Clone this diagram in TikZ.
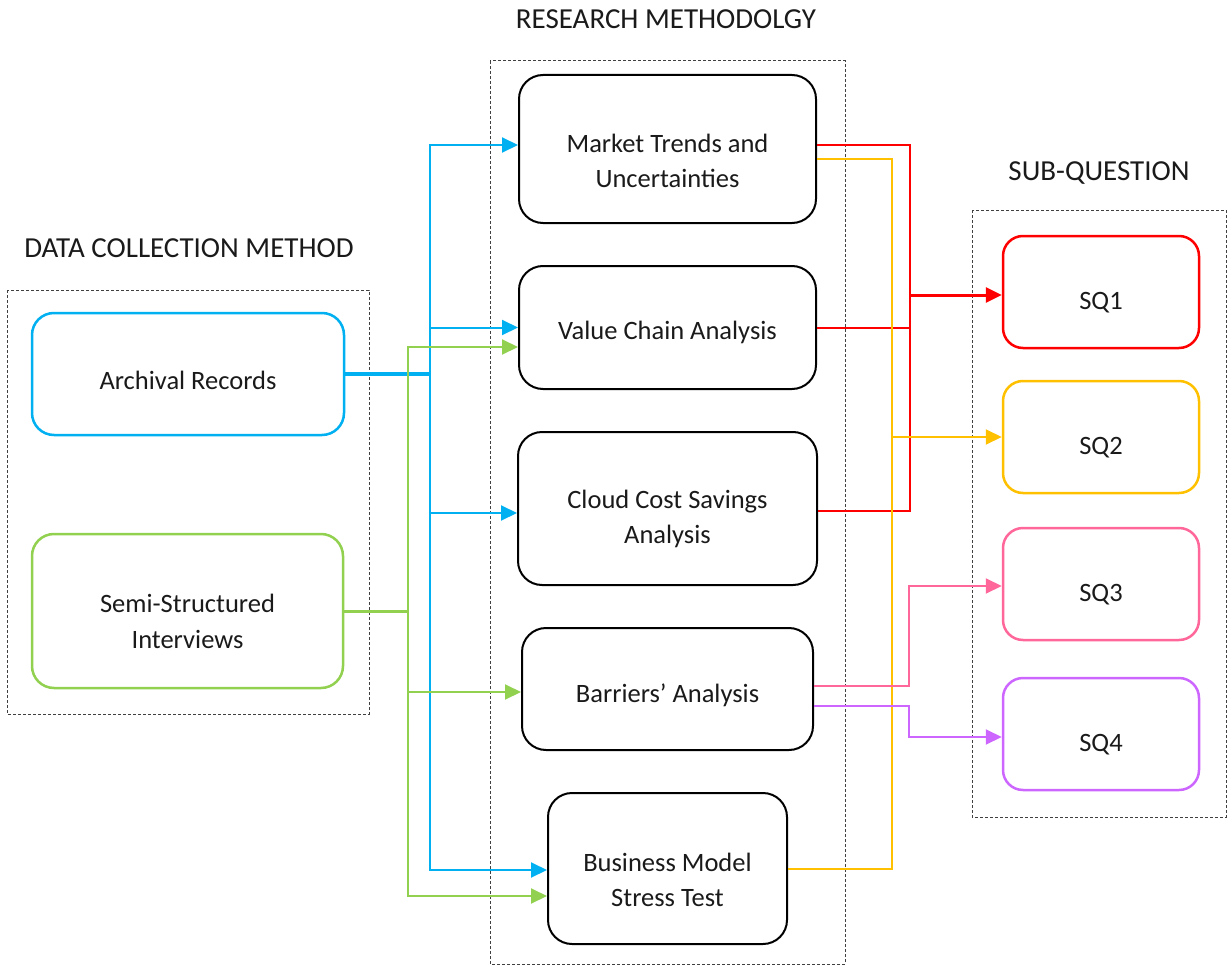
\documentclass[tikz,border=0pt]{standalone}
\usepackage{fontspec}
\setmainfont{Carlito}
\usetikzlibrary{arrows.meta}
\definecolor{cblue}{HTML}{00B0F0}
\definecolor{cgreen}{HTML}{92D050}
\definecolor{cred}{HTML}{FF0000}
\definecolor{cyellow}{HTML}{FFC000}
\definecolor{cpink}{HTML}{FF6699}
\definecolor{cpurple}{HTML}{CC66FF}
\definecolor{ctext}{HTML}{1A1A1A}
\begin{document}
\begin{tikzpicture}[x=1pt,y=-1pt,
  every node/.style={inner sep=0pt},
  lbl/.style={font=\fontsize{26.5}{35.5}\selectfont, text=ctext, align=center},
  title/.style={font=\fontsize{29}{35}\selectfont, text=ctext},
  box/.style={draw, rounded corners=24pt, line width=2pt},
  srcbox/.style={draw, rounded corners=22pt, line width=2.5pt},
  sqbox/.style={draw, rounded corners=20pt, line width=2.5pt, minimum width=196pt, minimum height=112pt},
  frame/.style={draw=black!75, line width=1pt, dash pattern=on 3pt off 2pt},
  conn/.style={line width=2pt},
  tip/.style={-{Triangle[length=16pt,width=15pt]}}
]
\useasboundingbox (0,0) rectangle (1227,966);

% group frames
\draw[frame] (7,290) rectangle (369,714);
\draw[frame] (490,61) rectangle (845,964);
\draw[frame] (972,210) rectangle (1226,817);

% group titles
\node[title] (t1) at (189,248.5) {DATA COLLECTION METHOD};
\node[title] (t2) at (666,19.5) {RESEARCH METHODOLGY};
\node[title] (t3) at (1099,173) {SUB-QUESTION};

% data collection methods
\node[srcbox, draw=cblue, minimum width=312pt, minimum height=122pt] (arch) at (188,374) {};
\node[srcbox, draw=cgreen, minimum width=311pt, minimum height=154pt] (semi) at (187.5,611) {};
\node[lbl] (arch-t) at ([yshift=-6.5pt]arch.center) {Archival Records};
\node[lbl] (semi-t) at ([yshift=-10.5pt]semi.center) {Semi-Structured\\Interviews};

% research methods
\node[box, minimum width=297pt, minimum height=148pt] (mkt) at (667.5,149) {};
\node[box, minimum width=297pt, minimum height=123pt] (vca) at (667.5,327.5) {};
\node[box, minimum width=299pt, minimum height=153pt] (ccs) at (667.5,508.5) {};
\node[box, minimum width=291pt, minimum height=122pt] (bar) at (667.5,689) {};
\node[box, minimum width=239pt, minimum height=151pt] (bms) at (667.5,868.5) {};
\node[lbl] (mkt-t) at ([yshift=-12pt]mkt.center) {Market Trends and\\Uncertainties};
\node[lbl] (vca-t) at ([yshift=-5pt]vca.center) {Value Chain Analysis};
\node[lbl] (ccs-t) at ([yshift=-10.5pt]ccs.center) {Cloud Cost Savings\\Analysis};
\node[lbl] (bar-t) at ([yshift=-6.5pt]bar.center) {Barriers’ Analysis};
\node[lbl] (bms-t) at ([yshift=-11.5pt]bms.center) {Business Model\\Stress Test};

% sub-questions
\node[sqbox, draw=cred] (sq1) at (1101,292) {};
\node[sqbox, draw=cyellow] (sq2) at (1101,437) {};
\node[sqbox, draw=cpink] (sq3) at (1101,584) {};
\node[sqbox, draw=cpurple] (sq4) at (1101,734) {};
\node[lbl] (sq1-t) at ([yshift=-11pt]sq1.center) {SQ1};
\node[lbl] (sq2-t) at ([yshift=-11pt]sq2.center) {SQ2};
\node[lbl] (sq3-t) at ([yshift=-11pt]sq3.center) {SQ3};
\node[lbl] (sq4-t) at ([yshift=-11pt]sq4.center) {SQ4};

% junction points
\coordinate (bj) at (430,374);
\coordinate (gj) at (408,611);
\coordinate (rj) at (910,295);
\coordinate (yj) at (892,437);

% archival records -> methods
\begin{scope}[cblue]
\draw[conn, line width=3.5pt] (arch.east) -- (bj);
\draw[conn, tip] (bj) |- ([yshift=4pt]mkt.west);
\draw[conn, tip] (bj) |- (vca.west);
\draw[conn, tip] (bj) |- ([yshift=-4.5pt]ccs.west);
\draw[conn, tip] (bj) |- ([yshift=-1.5pt]bms.west);
\end{scope}

% interviews -> methods
\begin{scope}[cgreen]
\draw[conn, line width=3pt] (semi.east) -- (gj);
\draw[conn, tip] (gj) |- ([yshift=-19.5pt]vca.west);
\draw[conn, tip] (gj) |- ([yshift=-3pt]bar.west);
\draw[conn, tip] (gj) |- ([yshift=-27.5pt]bms.west);
\end{scope}

% methods -> SQ1
\begin{scope}[cred]
\draw[conn] ([yshift=4pt]mkt.east) -| (rj);
\draw[conn] (vca.east) -| (rj);
\draw[conn] ([yshift=-2.5pt]ccs.east) -| (rj);
\draw[conn, line width=3pt, tip] (rj) -- ([yshift=-3pt]sq1.west);
\end{scope}

% methods -> SQ2
\begin{scope}[cyellow]
\draw[conn] ([yshift=-10pt]mkt.east) -| (yj);
\draw[conn] (bms.east) -| (yj);
\draw[conn, tip] (yj) -- (sq2.west);
\end{scope}

% barriers -> SQ3, SQ4
\draw[conn, cpink, tip] ([yshift=3pt]bar.east) -- ++(95,0) |- ([yshift=-2pt]sq3.west);
\draw[conn, cpurple, tip] ([yshift=-17pt]bar.east) -- ++(95,0) |- ([yshift=-3pt]sq4.west);
\end{tikzpicture}
\end{document}
